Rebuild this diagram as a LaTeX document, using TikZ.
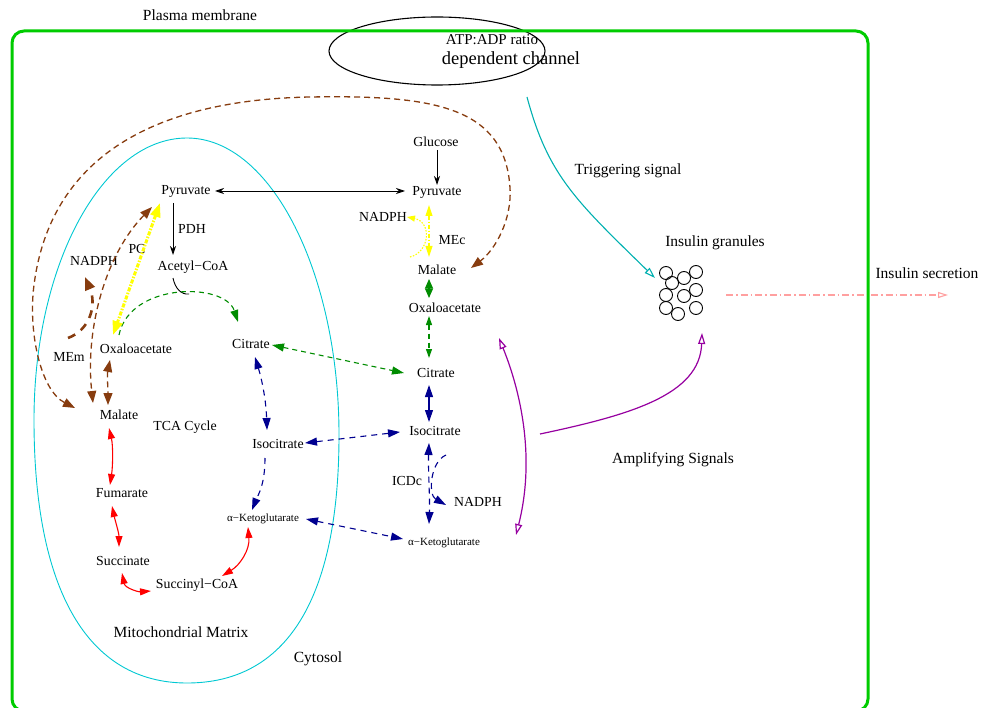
\documentclass[tikz,border=0pt]{standalone}
\usepackage{fontspec}
\setmainfont{Liberation Serif}
\usetikzlibrary{arrows.meta,shapes.geometric}
\definecolor{membrane}{RGB}{0,204,0}
\definecolor{mitoline}{RGB}{0,200,210}
\definecolor{trigline}{RGB}{0,176,176}
\definecolor{shuttle}{RGB}{135,60,15}
\definecolor{citgreen}{RGB}{0,140,0}
\definecolor{navyline}{RGB}{0,0,144}
\definecolor{ampline}{RGB}{150,0,160}
\definecolor{secline}{RGB}{255,160,160}
\definecolor{mepath}{RGB}{255,255,0}

\begin{document}
\begin{tikzpicture}[x=1pt,y=-1pt,
  met/.style={inner sep=0pt, font=\fontsize{13.8}{16}\selectfont},
  lab/.style={inner sep=0pt, font=\fontsize{15.5}{18}\selectfont},
  minor/.style={inner sep=0pt, font=\fontsize{11}{13}\selectfont},
  granule/.style={circle, draw, line width=0.9pt, minimum size=13pt, inner sep=0pt},
  blackflow/.style={line width=0.9pt, >={Stealth[length=9pt,width=6pt]}},
  greenflow/.style={citgreen, line width=1.1pt, dash pattern=on 5pt off 4pt, >={Triangle[length=12pt,width=8pt]}},
  navyflow/.style={navyline, line width=1.1pt, dash pattern=on 6pt off 5pt, >={Triangle[length=12pt,width=8pt]}},
  tcared/.style={red, line width=1.1pt, >={Triangle[length=11pt,width=7pt]}},
  shuttleflow/.style={shuttle, line width=1.3pt, dash pattern=on 6pt off 4pt, >={Triangle[length=12pt,width=9pt]}},
  pcflow/.style={mepath, line width=3pt, dash pattern=on 4pt off 1.5pt on 1.5pt off 1.5pt, >={Triangle[length=14pt,width=10pt]}},
  mecflow/.style={mepath, line width=1.1pt, dash pattern=on 4pt off 2pt on 1pt off 2pt, >={Triangle[length=11pt,width=7pt]}},
  ampflow/.style={ampline, line width=1.2pt, >={Triangle[open,length=11pt,width=7pt]}}
]
\useasboundingbox (0,0) rectangle (981,708);

% ---------- labels and metabolites ----------
\node[lab] (plasma) at (200,15) {Plasma membrane};
\node[draw, ellipse, line width=1.1pt, minimum width=216pt, minimum height=68pt, inner sep=0pt] (chan) at (437,51) {};
\node[inner sep=0pt, font=\fontsize{15}{17}\selectfont] (atp) at (492,40) {ATP:ADP ratio};
\node[inner sep=0pt, font=\fontsize{18.5}{21}\selectfont] (dep) at (511,60) {dependent channel};

% mitochondrion outline (blunter towards the bottom)
\draw[mitoline, line width=0.9pt] (187,138)
  .. controls (271.5,138) and (339,274) .. (339,435)
  .. controls (339,600) and (286,683) .. (187,683)
  .. controls (88,683) and (34,591) .. (34,420)
  .. controls (34,264) and (102.5,138) .. (187,138) -- cycle;

\node[met] (pyrM) at (186,191) {Pyruvate};
\node[met] (pdh) at (192,229) {PDH};
\node[met] (acoa) at (193,267) {Acetyl−CoA};
\node[met] (pc) at (137,249) {PC};
\node[met] (nadphM) at (94,261) {NADPH};
\node[met] (mem) at (69,357) {MEm};
\node[met] (oxaM) at (136,349) {Oxaloacetate};
\node[met] (citM) at (251,344) {Citrate};
\node[met] (malM) at (119,415) {Malate};
\node[met] (tca) at (185,427) {TCA Cycle};
\node[met] (fum) at (122,493) {Fumarate};
\node[met] (suc) at (123,561) {Succinate};
\node[met] (scoa) at (197,585) {Succinyl−CoA};
\node[minor] (akgM) at (263,519) {α−Ketoglutarate};
\node[met] (isoM) at (278,444) {Isocitrate};
\node[lab] (matrix) at (181,632) {Mitochondrial Matrix};
\node[lab] (cyto) at (318,659) {Cytosol};

% cytosol
\node[met] (glu) at (436,142) {Glucose};
\node[met] (pyrC) at (437,192) {Pyruvate};
\node[met] (nadphC) at (383,217) {NADPH};
\node[met] (mec) at (452,240) {MEc};
\node[met] (malC) at (437,270) {Malate};
\node[met] (oxaC) at (445,308) {Oxaloacetate};
\node[met] (citC) at (436,373) {Citrate};
\node[met] (isoC) at (435,431) {Isocitrate};
\node[met] (icdc) at (407,481) {ICDc};
\node[met] (nadphC2) at (478,502) {NADPH};
\node[minor] (akgC) at (444,543) {α−Ketoglutarate};

% secretion side
\node[lab] (trig) at (628,171) {Triggering signal};
\node[lab] (gran) at (715,243) {Insulin granules};
\node[lab] (sec) at (927,273) {Insulin secretion};
\node[lab] (amp) at (673,460) {Amplifying Signals};

\node[granule] (g1) at (666,273) {};
\node[granule] (g2) at (696,272) {};
\node[granule] (g3) at (684,278) {};
\node[granule] (g4) at (672,283) {};
\node[granule] (g5) at (696,290) {};
\node[granule] (g6) at (666,295) {};
\node[granule] (g7) at (684,296) {};
\node[granule] (g8) at (666,308) {};
\node[granule] (g9) at (696,308) {};
\node[granule] (g10) at (678,314) {};

% secretion leaves the cell
\draw[secline, line width=1.1pt, dash pattern=on 7pt off 3pt on 1.5pt off 3pt, -{Triangle[open,length=10pt,width=6pt]}]
  ([shift={(30,5)}]g5.center) -- ([shift={(21,22)}]sec.center);

% plasma membrane
\draw[membrane, line width=3pt, rounded corners=12pt] (12,31) rectangle (868,711);

% ---------- black reactions ----------
\draw[blackflow,<->] ([shift={(29,0)}]pyrM.center) -- ([shift={(-32,-1)}]pyrC.center);
\draw[blackflow,->] ([shift={(1,8)}]glu.center) -- ([shift={(0,-7)}]pyrC.center);
\draw[blackflow,->] ([shift={(-13,12)}]pyrM.center) -- ([shift={(-20,-12)}]acoa.center);
\draw[line width=0.9pt] ([shift={(-20,11)}]acoa.center) .. controls +(2,10) and +(-8,1) .. ++(16,16);

% ---------- green ----------
\draw[greenflow,->] ([shift={(-17,-14)}]oxaM.center) .. controls +(11,-53) and +(-13,-40) .. ([shift={(-13,-22)}]citM.center);
\draw[greenflow,<->] ([shift={(21,1)}]citM.center) -- ([shift={(-32,0)}]citC.center);
\draw[greenflow,solid,>={Triangle[length=9.5pt,width=8pt]},<->] ([shift={(-8,9)}]malC.center) -- ([shift={(-16,-10)}]oxaC.center);
\draw[greenflow,<->,>={Triangle[length=9pt,width=6pt]}] ([shift={(-16,8)}]oxaC.center) -- ([shift={(-7,-15)}]citC.center);

% ---------- navy ----------
\draw[navyflow,<->] ([shift={(4,13)}]citM.center) .. controls +(7,23) and +(-1,-30) .. ([shift={(-11,-14)}]isoM.center);
\draw[navyflow,->] ([shift={(-13,14)}]isoM.center) .. controls +(0,27) and +(6,-15) .. ([shift={(-11,-9)}]akgM.center);
\draw[navyflow,<->] ([shift={(27,-1)}]isoM.center) -- ([shift={(-35,1)}]isoC.center);
\draw[navyflow,<->] ([shift={(43,0)}]akgM.center) -- ([shift={(-41,-4)}]akgC.center);
\draw[navyflow,solid,<->] ([shift={(-7,12)}]citC.center) -- ([shift={(-6,-9)}]isoC.center);
\draw[navyflow,<->] ([shift={(-6,12)}]isoC.center) .. controls +(-1,25) and +(1,-25) .. ([shift={(-15,-19)}]akgC.center);
\draw[navyflow,->] ([shift={(11,24)}]isoC.center) .. controls +(-16,7) and +(-18,-10) .. ([shift={(-32,3)}]nadphC2.center);

% ---------- TCA cycle (red) ----------
\draw[tcared,<->] ([shift={(-10,13)}]malM.center) .. controls +(4,17) and +(3,-20) .. ([shift={(-12,-8)}]fum.center);
\draw[tcared,<->] ([shift={(-10,13)}]fum.center) .. controls +(3,14) and +(0,-14) .. ([shift={(-4,-14)}]suc.center);
\draw[tcared,<->] ([shift={(-1,12)}]suc.center) .. controls +(3,15) and +(-13,1) .. ([shift={(-46,6)}]scoa.center);
\draw[tcared,<->] ([shift={(25,-9)}]scoa.center) .. controls +(18,-11) and +(2,23) .. ([shift={(-15,8)}]akgM.center);

% ---------- malate shuttles (brown) ----------
\draw[shuttleflow,<->] ([shift={(-44,-7)}]malM.center)
  .. controls (40,390) and (28,330) .. (34,285)
  .. controls (50,160) and (150,100) .. (310,97)
  .. controls (430,95) and (505,105) .. (510,188)
  .. controls (512,220) and (495,250) .. ([shift={(34,-2)}]malC.center);
\draw[shuttleflow,<->] ([shift={(-34,16)}]pyrM.center) .. controls +(-47,48) and +(-8,-73) .. ([shift={(-26,-12)}]malM.center);
\draw[shuttleflow,<->] ([shift={(-26,11)}]oxaM.center) .. controls +(-3,15) and +(0,-15) .. ([shift={(-11,-10)}]malM.center);
\draw[shuttleflow, line width=2.6pt, dash pattern=on 8pt off 7pt, -{Triangle[length=13pt,width=10pt]}]
  ([shift={(-1,-19)}]mem.center) .. controls +(22,-8) and +(12,28) .. ([shift={(-9,16)}]nadphM.center);

% ---------- malic enzyme / pyruvate carboxylase (yellow) ----------
\draw[pcflow,<->] ([shift={(-26,12)}]pyrM.center) -- ([shift={(-23,-14)}]oxaM.center);
\draw[mecflow,<->] ([shift={(-8,13)}]pyrC.center) -- ([shift={(-8,-13)}]malC.center);
\draw[mecflow, dash pattern=on 1.5pt off 1.5pt, >={Triangle[length=8pt,width=6pt]}, ->]
  ([shift={(-27,-13)}]malC.center) .. controls +(20,-5) and +(25,5) .. ([shift={(24,0)}]nadphC.center);

% ---------- signals ----------
\draw[trigline, line width=1.1pt, -{Triangle[open,length=11pt,width=7pt]}]
  ([shift={(90,46)}]chan.center) .. controls +(21,78) and +(-80,-78) .. ([shift={(-11,5)}]g1.center);
\draw[ampflow,<->] ([shift={(54,30)}]oxaC.center) .. controls +(23,57) and +(19,-75) .. ([shift={(72,-8)}]akgC.center);
\draw[ampflow,->] ([shift={(105,3)}]isoC.center) .. controls +(90,-19) and +(-2,62) .. ([shift={(24,19)}]g10.center);
\end{tikzpicture}
\end{document}
